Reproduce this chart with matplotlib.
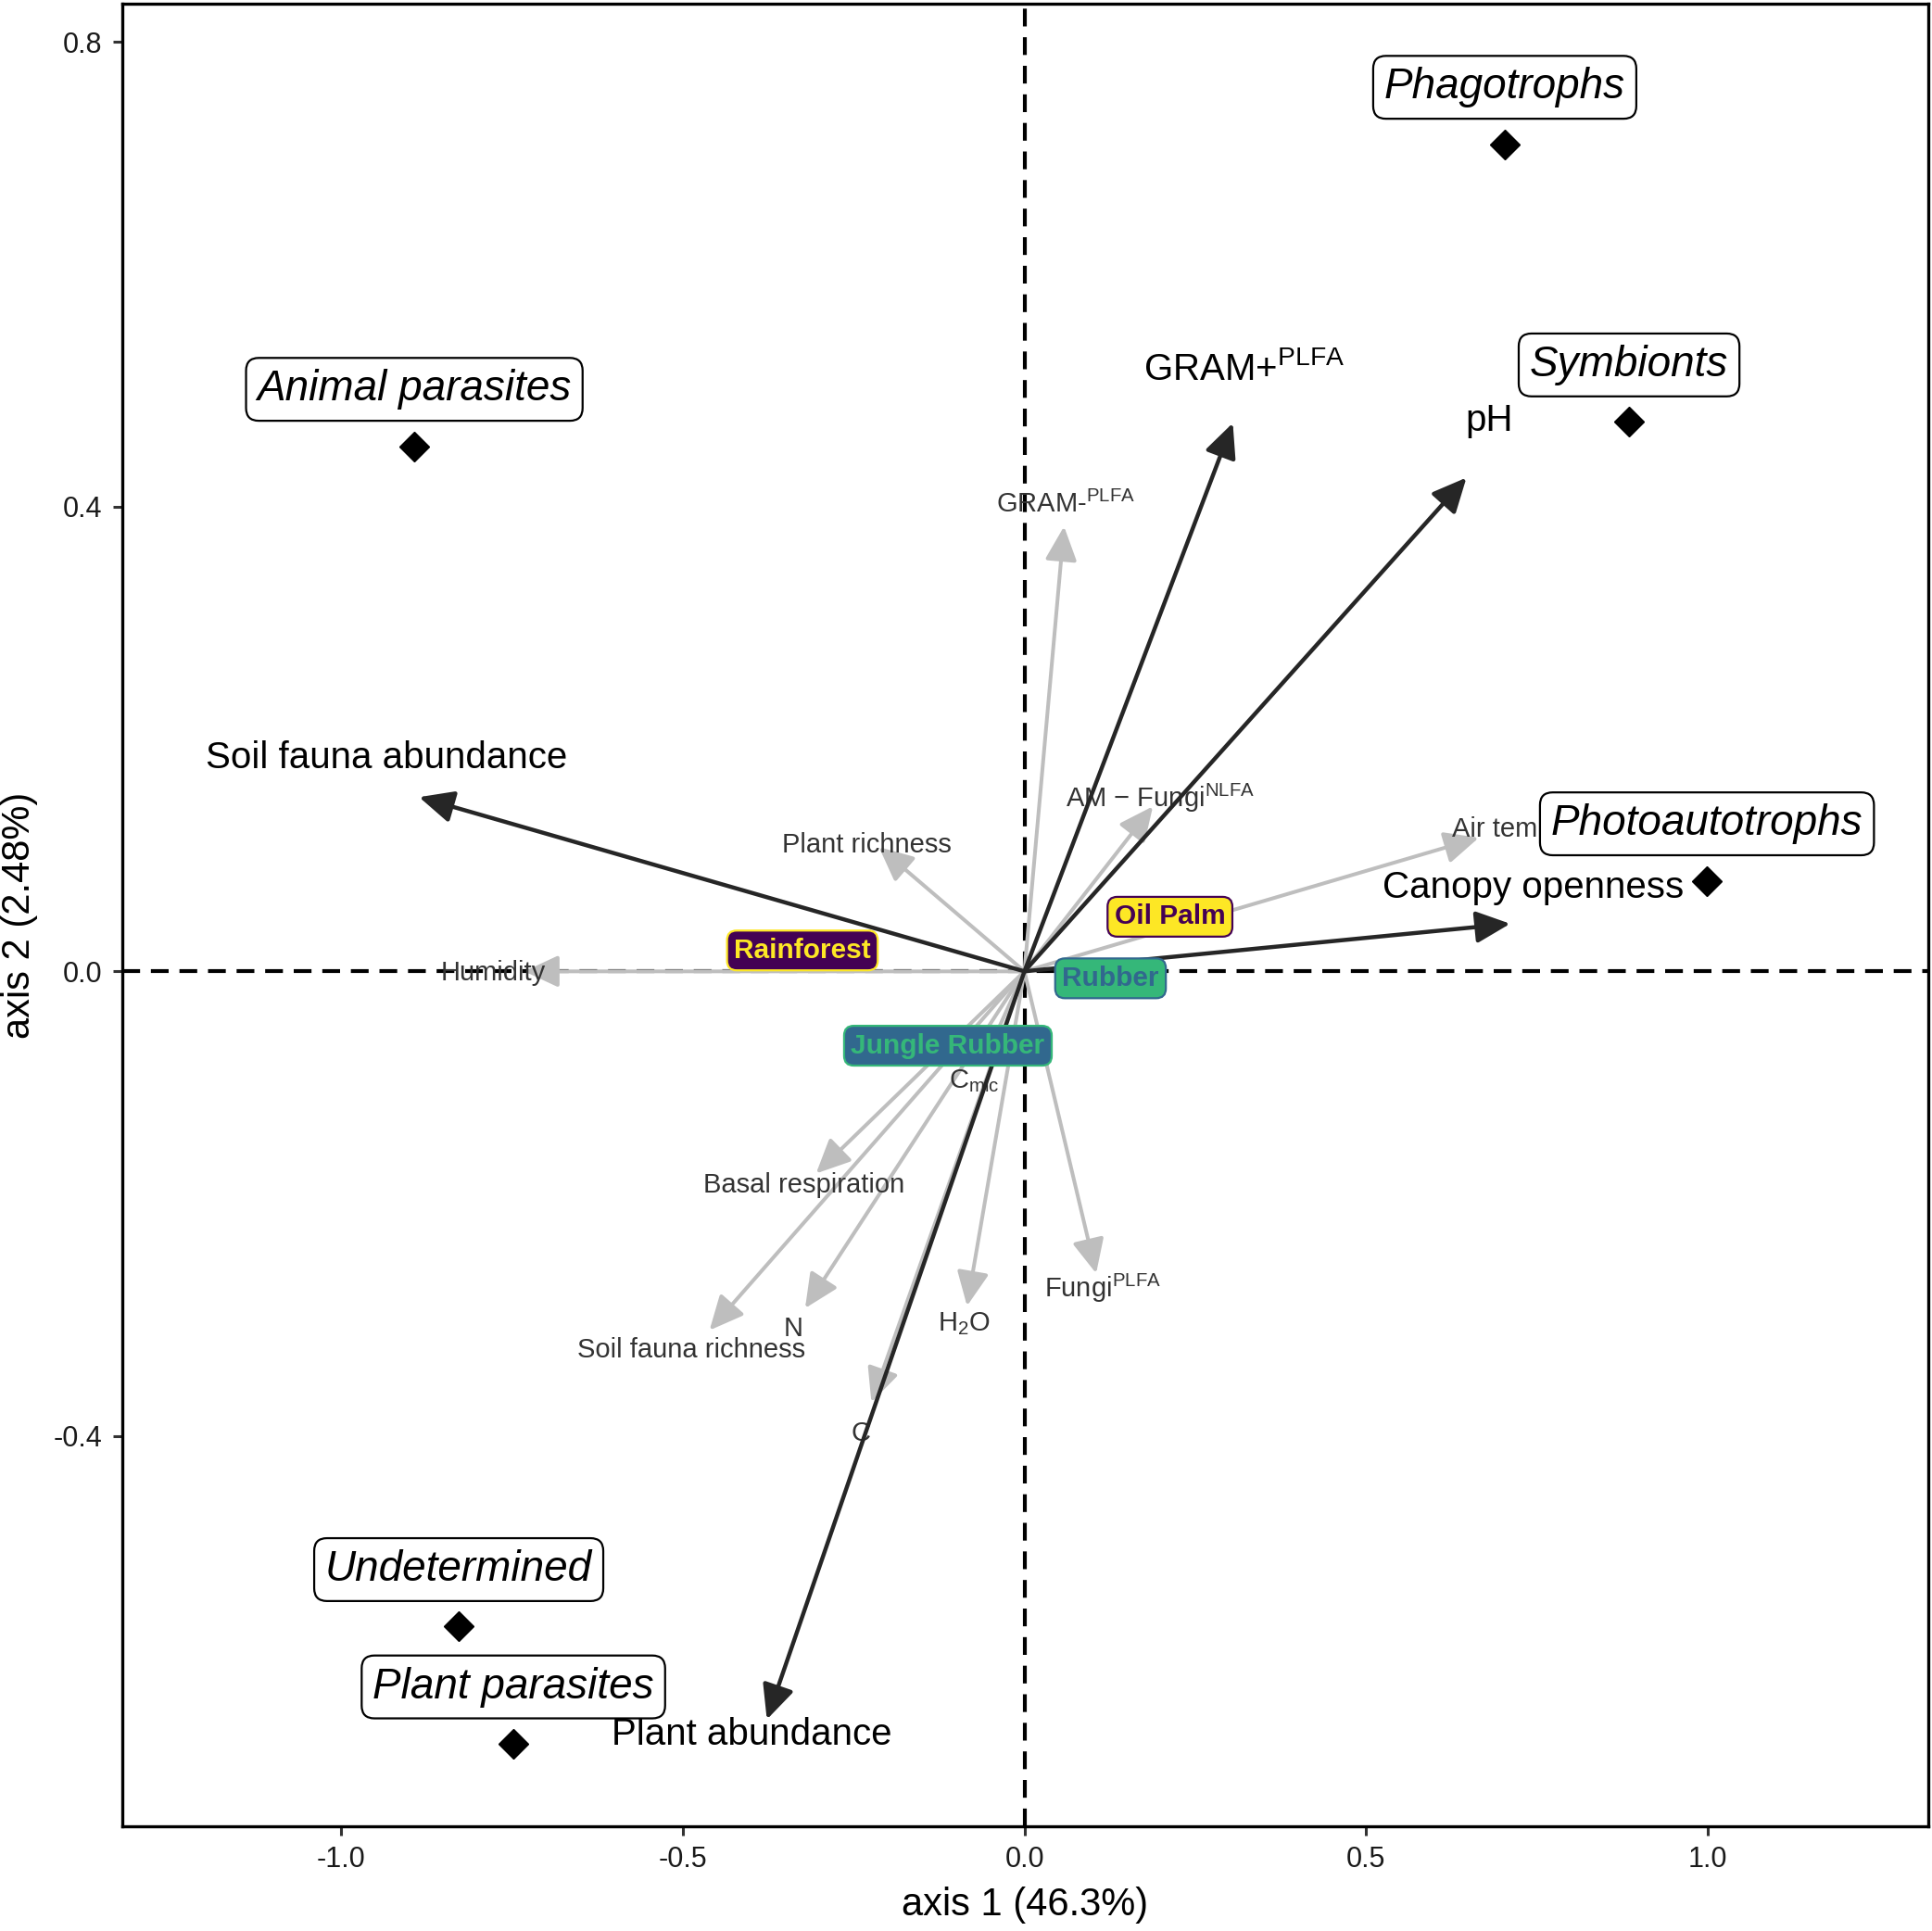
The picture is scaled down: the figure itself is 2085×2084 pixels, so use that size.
import matplotlib
matplotlib.use("Agg")
import matplotlib.pyplot as plt

plt.rcParams['font.family'] = ['Liberation Sans', 'DejaVu Sans']
plt.rcParams['mathtext.fontset'] = 'custom'
plt.rcParams['mathtext.rm'] = 'Liberation Sans'
plt.rcParams['mathtext.it'] = 'Liberation Sans:italic'
plt.rcParams['mathtext.bf'] = 'Liberation Sans:bold'

# ---- data ----
species = ['Phagotrophs', 'Symbionts', 'Photoautotrophs', 'Animal parasites', 'Undetermined', 'Plant parasites']
species_x = [0.703, 0.885, 0.999, -0.893, -0.828, -0.748]
species_y = [0.712, 0.473, 0.078, 0.452, -0.564, -0.665]
species_label_dy = 0.049

black_vars = [r'GRAM+$^{\mathrm{PLFA}}$', 'pH', 'Soil fauna abundance', 'Canopy openness', 'Plant abundance']
black_x = [0.305, 0.647, -0.886, 0.711, -0.377]
black_y = [0.472, 0.425, 0.150, 0.041, -0.644]
black_lab_x = [0.321, 0.680, -0.934, 0.745, -0.399]
black_lab_y = [0.518, 0.474, 0.184, 0.072, -0.657]

grey_vars = [r'GRAM-$^{\mathrm{PLFA}}$', r'AM $-$ Fungi$^{\mathrm{NLFA}}$', 'Air temp', 'Plant richness',
             'Humidity', r'C$_{\mathrm{mic}}$', 'Basal respiration', 'Soil fauna richness', 'N',
             r'H$_2$O', 'C', r'Fungi$^{\mathrm{PLFA}}$']
grey_x = [0.058, 0.188, 0.665, -0.213, -0.732, -0.064, -0.305, -0.461, -0.321, -0.084, -0.224, 0.105]
grey_y = [0.383, 0.142, 0.115, 0.107, 0.000, -0.083, -0.174, -0.309, -0.290, -0.288, -0.371, -0.260]
grey_lab_x = [0.061, 0.198, 0.700, -0.231, -0.777, -0.074, -0.323, -0.487, -0.338, -0.088, -0.2395, 0.115]
grey_lab_y = [0.402, 0.149, 0.122, 0.109, -0.001, -0.094, -0.184, -0.326, -0.3075, -0.3035, -0.398, -0.273]

sites = ['Rainforest', 'Oil Palm', 'Rubber', 'Jungle Rubber']
site_x = [-0.325, 0.213, 0.126, -0.112]
site_y = [0.018, 0.047, -0.006, -0.064]
site_fill = ['#440154', '#FDE725', '#35B779', '#31688E']
site_text = ['#FDE725', '#440154', '#31688E', '#35B779']

x_ticks = [-1.0, -0.5, 0.0, 0.5, 1.0]
y_ticks = [-0.4, 0.0, 0.4, 0.8]

# ---- figure ----
fig = plt.figure(figsize=(20.85, 20.84), dpi=100)
ax = fig.add_axes([0.0631, 0.0542, 0.935, 0.9439])
ax.set_xlim(-1.321, 1.323)
ax.set_ylim(-0.736, 0.833)

ax.axhline(0, color='black', lw=3.0, ls=(0, (4.6, 2.8)), zorder=2)
ax.axvline(0, color='black', lw=3.0, ls=(0, (4.6, 2.8)), zorder=2)

for x, y in zip(grey_x, grey_y):
    ax.annotate('', xy=(x, y), xytext=(0, 0), zorder=3,
                arrowprops=dict(arrowstyle='-|>,head_length=0.75,head_width=0.35',
                                mutation_scale=30, color='#BEBEBE', lw=2.9,
                                shrinkA=0, shrinkB=0))
for lab, x, y in zip(grey_vars, grey_lab_x, grey_lab_y):
    ax.text(x, y, lab, fontsize=21, color='#333333', ha='center', va='center', zorder=4)

for x, y in zip(black_x, black_y):
    ax.annotate('', xy=(x, y), xytext=(0, 0), zorder=5,
                arrowprops=dict(arrowstyle='-|>,head_length=0.75,head_width=0.35',
                                mutation_scale=30, color='#262626', lw=3.2,
                                shrinkA=0, shrinkB=0))
for lab, x, y in zip(black_vars, black_lab_x, black_lab_y):
    ax.text(x, y, lab, fontsize=29, color='black', ha='center', va='center', zorder=6)

for s, x, y, fc, tc in zip(sites, site_x, site_y, site_fill, site_text):
    ax.text(x, y, s, fontsize=21.5, fontweight='bold', color=tc, ha='center', va='center', zorder=7,
            bbox=dict(boxstyle='round,pad=0.25,rounding_size=0.35', fc=fc, ec=tc, lw=1.6))

ax.plot(species_x, species_y, ls='none', marker='D', ms=16, color='black', zorder=8)
for s, x, y in zip(species, species_x, species_y):
    ax.text(x, y + species_label_dy, s, fontsize=33, style='italic', color='black',
            ha='center', va='center', zorder=9,
            bbox=dict(boxstyle='round,pad=0.26,rounding_size=0.3', fc='white', ec='black', lw=1.6))

ax.set_xticks(x_ticks)
ax.set_xticklabels([f'{v:.1f}' for v in x_ticks])
ax.set_yticks(y_ticks)
ax.set_yticklabels([f'{v:.1f}' for v in y_ticks])
ax.tick_params(axis='both', labelsize=22, labelcolor='#1a1a1a', length=7, width=2.2,
               color='#333333', pad=8)
for sp in ax.spines.values():
    sp.set_linewidth(2.4)
    sp.set_color('black')

ax.set_xlabel('axis 1 (46.3%)', fontsize=30, labelpad=10)
ax.set_ylabel('axis 2 (2.48%)', fontsize=30, labelpad=12)

fig.savefig('out.png', dpi=100)
